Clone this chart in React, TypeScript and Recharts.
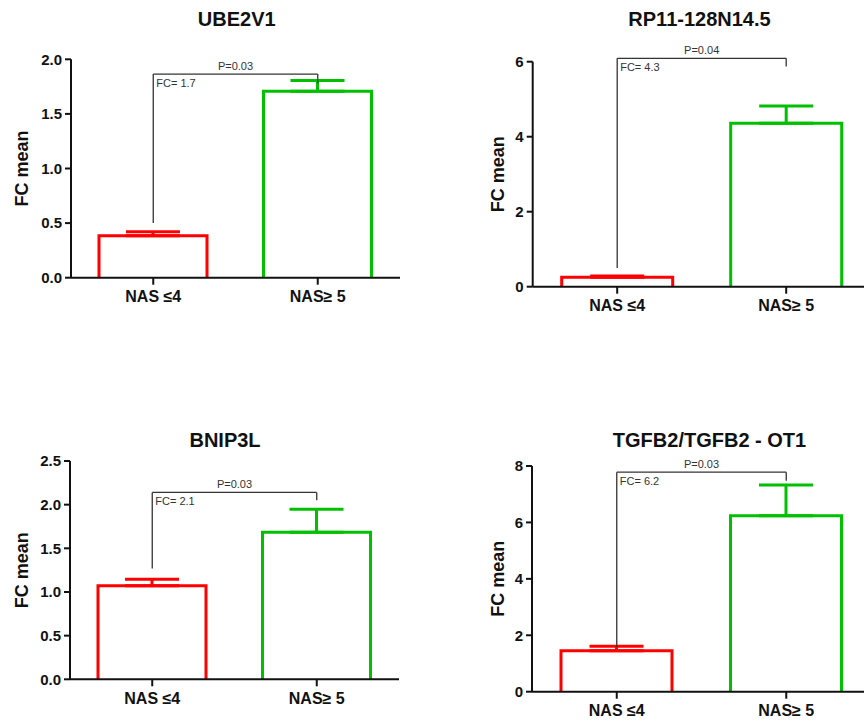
import { BarChart, Bar, XAxis, YAxis, ErrorBar, ReferenceLine } from 'recharts';

const categories = ['NAS ≤4', 'NAS≥ 5'];
const titles = ['UBE2V1', 'RP11-128N14.5', 'BNIP3L', 'TGFB2/TGFB2 - OT1'];
const lowMeans = [0.385, 0.25, 1.072, 1.453];
const lowErrors = [0.035, 0.035, 0.073, 0.157];
const highMeans = [1.707, 4.36, 1.684, 6.24];
const highErrors = [0.1, 0.46, 0.263, 1.09];
const yMaxes = [2, 6, 2.5, 8];
const yTicks = [
  [0, 0.5, 1, 1.5, 2],
  [0, 2, 4, 6],
  [0, 0.5, 1, 1.5, 2, 2.5],
  [0, 2, 4, 6, 8],
];
const pValues = ['P=0.03', 'P=0.04', 'P=0.03', 'P=0.03'];
const foldChanges = ['FC= 1.7', 'FC= 4.3', 'FC= 2.1', 'FC= 6.2'];
const bracketTop = [1.865, 6.09, 2.14, 7.78];
const bracketLeftFrom = [0.5, 0.5, 1.27, 1.585];
const bracketRightTo = [1.78, 5.87, 2.05, 7.48];

const RED = '#ff0000';
const GREEN = '#00c000';
const FONT = '"Liberation Sans", Arial, sans-serif';

// where each panel sits on the page (plot box in page pixels)
const panels = [
  { ox: 0, oy: 0, px: 71, py: 59.3, pw: 329, ph: 218.4, bar: 108, tx: 236.7, ty: 26, lx: 21.5 },
  { ox: 432, oy: 0, px: 532.7, py: 61.7, pw: 338, ph: 225, bar: 111, tx: 699.5, ty: 26, lx: 498 },
  { ox: 0, oy: 400, px: 70, py: 461, pw: 329, ph: 218.3, bar: 108, tx: 225, ty: 446.7, lx: 21.7 },
  { ox: 432, oy: 400, px: 532, py: 466, pw: 339, ph: 225.7, bar: 111, tx: 709.5, ty: 446.7, lx: 498 },
];

const CW = 440;
const CH = 340;
const YW = 50;
const XH = 40;

const openBar = (color: string) => (props: any) => {
  const { x, y, width, height } = props;
  if (!height || height <= 0) return <g />;
  return (
    <path
      d={`M${x},${y + height} L${x},${y} L${x + width},${y} L${x + width},${y + height}`}
      fill="#fff"
      stroke={color}
      strokeWidth={3}
      strokeLinejoin="miter"
    />
  );
};

function Panel({ i }: { i: number }) {
  const p = panels[i];
  const data = categories.map((name, j) => ({
    name,
    low: j === 0 ? lowMeans[i] : null,
    lowErr: j === 0 ? [0, lowErrors[i]] : null,
    high: j === 1 ? highMeans[i] : null,
    highErr: j === 1 ? [0, highErrors[i]] : null,
  }));
  const relX = p.px - p.ox;
  const relY = p.py - p.oy;
  const margin = {
    left: relX - YW,
    top: relY,
    right: CW - relX - p.pw,
    bottom: CH - relY - p.ph - XH,
  };
  const dec = yMaxes[i] <= 2.5;
  const tickStyle = { fill: '#111', fontFamily: FONT, fontWeight: 700 };

  return (
    <div style={{ position: 'absolute', left: p.ox, top: p.oy }}>
      <BarChart width={CW} height={CH} data={data} margin={margin} barSize={p.bar}>
        <XAxis
          dataKey="name"
          interval={0}
          height={XH}
          tickSize={7}
          tickMargin={6}
          tick={{ ...tickStyle, fontSize: 16 }}
          axisLine={{ stroke: '#111', strokeWidth: 2 }}
          tickLine={{ stroke: '#111', strokeWidth: 2 }}
        />
        <YAxis
          type="number"
          domain={[0, yMaxes[i]]}
          ticks={yTicks[i]}
          width={YW}
          tickSize={6}
          tickMargin={3}
          tickFormatter={(v: number) => (dec ? v.toFixed(1) : String(v))}
          tick={{ ...tickStyle, fontSize: 15 }}
          axisLine={{ stroke: '#111', strokeWidth: 2 }}
          tickLine={{ stroke: '#111', strokeWidth: 2 }}
        />
        <Bar dataKey="low" stackId="a" shape={openBar(RED)} isAnimationActive={false}>
          <ErrorBar dataKey="lowErr" width={27} stroke={RED} strokeWidth={3} isAnimationActive={false} />
        </Bar>
        <Bar dataKey="high" stackId="a" shape={openBar(GREEN)} isAnimationActive={false}>
          <ErrorBar dataKey="highErr" width={27} stroke={GREEN} strokeWidth={3} isAnimationActive={false} />
        </Bar>
        <ReferenceLine
          ifOverflow="visible"
          stroke="#333"
          strokeWidth={1.3}
          segment={[
            { x: categories[0], y: bracketLeftFrom[i] },
            { x: categories[0], y: bracketTop[i] },
          ]}
          label={(lp: any) => (
            <text
              x={lp.viewBox.x + 3}
              y={lp.viewBox.y + 13}
              fontFamily={FONT}
              fontSize={11}
              fill="#333"
            >
              {foldChanges[i]}
            </text>
          )}
        />
        <ReferenceLine
          ifOverflow="visible"
          stroke="#333"
          strokeWidth={1.3}
          segment={[
            { x: categories[0], y: bracketTop[i] },
            { x: categories[1], y: bracketTop[i] },
          ]}
          label={(lp: any) => (
            <text
              x={lp.viewBox.x + lp.viewBox.width / 2}
              y={lp.viewBox.y - 4}
              textAnchor="middle"
              fontFamily={FONT}
              fontSize={11}
              fill="#333"
            >
              {pValues[i]}
            </text>
          )}
        />
        <ReferenceLine
          ifOverflow="visible"
          stroke="#333"
          strokeWidth={1.3}
          segment={[
            { x: categories[1], y: bracketTop[i] },
            { x: categories[1], y: bracketRightTo[i] },
          ]}
        />
      </BarChart>
    </div>
  );
}

export default function App() {
  return (
    <div
      style={{
        position: 'absolute',
        left: 0,
        top: 0,
        width: 864,
        height: 722,
        overflow: 'hidden',
        background: '#fff',
      }}
    >
      {panels.map((_, i) => (
        <Panel key={i} i={i} />
      ))}
      <svg width={864} height={722} style={{ position: 'absolute', left: 0, top: 0, pointerEvents: 'none' }}>
        {panels.map((p, i) => (
          <g key={i} fontFamily={FONT} fontWeight={700} fill="#111">
            <text x={p.tx} y={p.ty} textAnchor="middle" fontSize={20}>
              {titles[i]}
            </text>
            <text
              x={p.lx}
              y={p.py + p.ph / 2}
              textAnchor="middle"
              dominantBaseline="central"
              fontSize={18}
              transform={`rotate(-90, ${p.lx}, ${p.py + p.ph / 2})`}
            >
              FC mean
            </text>
          </g>
        ))}
      </svg>
    </div>
  );
}
